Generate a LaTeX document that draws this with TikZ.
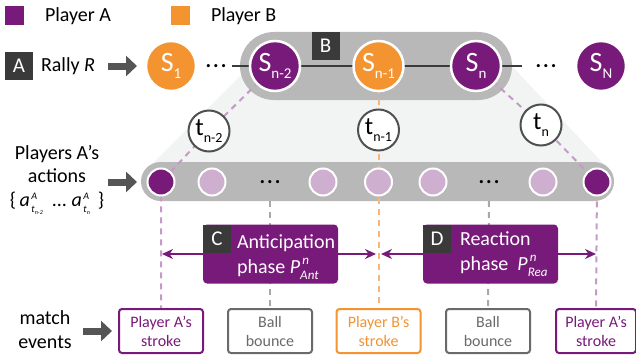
\documentclass[tikz,border=0pt]{standalone}
\usepackage{fontspec}
\setmainfont{Carlito}
\usetikzlibrary{arrows.meta}
\definecolor{pur}{HTML}{781A7A}
\definecolor{ora}{HTML}{F39431}
\definecolor{dk}{HTML}{3A3A3A}
\definecolor{ga}{HTML}{555555}
\definecolor{pillc}{HTML}{B7B8B7}
\definecolor{lite}{HTML}{F2F4F3}
\definecolor{lpur}{HTML}{CFAFCF}
\definecolor{dpur}{HTML}{C39BC6}
\definecolor{dora}{HTML}{F7B57A}
\definecolor{gbox}{HTML}{6A6A6A}
\definecolor{gdash}{HTML}{A8A8A8}
\definecolor{tc}{HTML}{505050}
\pgfdeclarelayer{back}
\pgfdeclarelayer{mid}
\pgfsetlayers{back,mid,main}
\newcommand{\fs}[1]{\fontsize{#1}{#1}\selectfont}
\newcommand{\SN}[1]{{\fs{28}S}\raisebox{-7pt}{\fs{15}#1}}
\newcommand{\TN}[1]{{\fs{25}t}\raisebox{-7pt}{\fs{14}#1}}
\newcommand{\Pn}[1]{\textit{P}\rlap{\raisebox{9pt}{\fs{13}\,\textit{n}}}\raisebox{-6pt}{\fs{13}\textit{#1}}}
\newcommand{\aA}[1]{\textit{a}\rlap{\raisebox{6.5pt}{\fs{10}\,\textit{A}}}\raisebox{-6pt}{\fs{10}\,\textit{t}\raisebox{-2.5pt}{\fs{6}\textit{#1}}}}
\begin{document}
\begin{tikzpicture}[x=1pt,y=-1pt,
  every node/.style={inner sep=0pt,outer sep=0pt,font=\fs{20}},
  snode/.style={circle,minimum size=50pt,draw=white,line width=2.5pt,text=white},
  tnode/.style={circle,minimum size=41pt,fill=white,draw=tc,line width=2pt,text=black},
  dotA/.style={circle,minimum size=27pt,fill=pur,draw=white,line width=2pt},
  dotL/.style={circle,minimum size=27pt,fill=lpur,draw=white,line width=2pt},
  lab/.style={fill=dk,text=white,minimum size=28pt,font=\fs{21}},
  phasebox/.style={fill=pur,rounded corners=4pt,minimum width=135pt,minimum height=59pt},
  evbox/.style={draw,fill=white,rounded corners=3pt,line width=2pt,minimum width=84pt,minimum height=44pt,align=center,font=\fontsize{16}{19}\selectfont},
  bigarrow/.style={draw=ga,line width=7pt,-{Triangle[length=11pt,width=20pt]}},
  phasearrow/.style={draw=pur,line width=2pt,-{Stealth[length=11pt,width=10pt]}},
  dsh/.style={line width=2pt,dash pattern=on 6pt off 5pt},
  ellip/.style={font=\fs{21}\bfseries}
]
\useasboundingbox (0,0) rectangle (636,361);

% legend
\node[fill=pur,minimum size=19pt] (lgA) at (14.5,15.5) {};
\node[anchor=base west] (lgAt) at (45,22) {Player A};
\node[fill=ora,minimum size=19pt] (lgB) at (180.5,15.5) {};
\node[anchor=base west] (lgBt) at (211,22) {Player B};

% row 1
\node[lab] (labA) at (19,66) {A};
\node[anchor=base west] (rally) at (41,71) {Rally \textit{R}};
\coordinate (ar1s) at (108,66);
\coordinate (ar1e) at (137,66);
\node[snode,fill=ora] (S1) at (171,66) {\SN{1}};
\node[ellip] (dots1) at (216,66) {.\kern2pt.\kern2pt.};
\node[snode,fill=pur] (Sn2) at (275,66) {\SN{n-2}};
\node[lab] (labB) at (325.5,46) {B};
\node[snode,fill=ora] (Sn1) at (378.5,66) {\SN{n-1}};
\node[snode,fill=pur] (Sn) at (476,66) {\SN{n}};
\node[ellip] (dots2) at (546,66) {.\kern2pt.\kern2pt.};
\node[snode,fill=pur] (SN) at (601,66) {\SN{N}};
\coordinate (l1) at (232,66);
\coordinate (l2) at (522,66);

% t nodes
\node[tnode] (tn2) at (209,131) {\TN{n-2}};
\node[tnode] (tn1) at (378.5,130) {\TN{n-1}};
\node[tnode] (tn) at (541,125) {\TN{n}};

% actions label
\node[anchor=base] (act1) at (57,159) {Players A’s};
\node[anchor=base] (act2) at (57,182) {actions};
\node[anchor=base] (act3) at (57,206) {\{\,\aA{n-2}\ \ ...\ \aA{n}\ \,\}};
\coordinate (ar2s) at (108,182);
\coordinate (ar2e) at (137,182);

% action dots
\node[dotA] (d1) at (161,182) {};
\node[dotL] (d2) at (212,182) {};
\node[ellip] (dd1) at (270,182) {.\kern2pt.\kern2pt.};
\node[dotL] (d3) at (323,182) {};
\node[dotL] (d4) at (378.5,182) {};
\node[dotL] (d5) at (433,182) {};
\node[ellip] (dd2) at (489,182) {.\kern2pt.\kern2pt.};
\node[dotL] (d6) at (543,182) {};
\node[dotA] (d7) at (597,182) {};
\coordinate (g1) at (270,201);
\coordinate (g2) at (489,201);

% phase boxes
\node[phasebox] (C) at (270.5,254) {};
\node[lab,anchor=north west] (labC) at (C.north west) {C};
\node[anchor=base west,text=white] (Ct1) at (237,248) {Anticipation};
\node[anchor=base west,text=white] (Ct2) at (237,273) {phase \Pn{Ant}};
\node[phasebox] (D) at (490.5,254) {};
\node[lab,anchor=north west] (labD) at (D.north west) {D};
\node[anchor=base west,text=white] (Dt1) at (460,245) {Reaction};
\node[anchor=base west,text=white] (Dt2) at (460,270) {phase \ \Pn{Rea}};
\coordinate (pa1) at (162,254);
\coordinate (pa2) at (376,254);
\coordinate (pa3) at (381,254);
\coordinate (pa4) at (596,254);

% match events
\node[anchor=base] (me1) at (45,324) {match};
\node[anchor=base] (me2) at (45,348) {events};
\coordinate (ar3s) at (83,331);
\coordinate (ar3e) at (112,331);
\node[evbox,draw=pur,text=pur] (eA1) at (161,331) {Player A’s\\stroke};
\node[evbox,draw=gbox,text=gbox] (eC1) at (270,331) {Ball\\bounce};
\node[evbox,draw=ora,text=ora] (eB) at (378.5,331) {Player B’s\\stroke};
\node[evbox,draw=gbox,text=gbox] (eC2) at (488,331) {Ball\\bounce};
\node[evbox,draw=pur,text=pur,minimum width=80pt] (eA2) at (596,331) {Player A’s\\stroke};

\begin{pgfonlayer}{back}
  \fill[lite] (250,66) -- (512,66) -- (614,175) -- (141,175) -- cycle;
  \fill[pillc,rounded corners=34pt] (240,32) rectangle (512,100);
  \fill[pillc,rounded corners=19.5pt] (141,162) rectangle (614,201);
\end{pgfonlayer}

\begin{pgfonlayer}{mid}
  \draw[dk,line width=2pt] (l1) -- (l2);
  \draw[dsh,dpur] (Sn2.center) -- (tn2.center) -- (d1.center) -- (eA1.north);
  \draw[dsh,dpur] (Sn.center) -- (tn.center) -- (d7.center) -- (eA2.north);
  \draw[dsh,dora] (Sn1.center) -- (tn1.center) -- (d4.center) -- (eB.north);
  \draw[dsh,gdash] (g1) -- (eC1.north);
  \draw[dsh,gdash] (g2) -- (eC2.north);
  \draw[bigarrow] (ar1s) -- (ar1e);
  \draw[bigarrow] (ar2s) -- (ar2e);
  \draw[bigarrow] (ar3s) -- (ar3e);
  \draw[phasearrow] (C.west) -- (pa1);
  \draw[phasearrow] (C.east) -- (pa2);
  \draw[phasearrow] (D.west) -- (pa3);
  \draw[phasearrow] (D.east) -- (pa4);
\end{pgfonlayer}
\end{tikzpicture}
\end{document}
